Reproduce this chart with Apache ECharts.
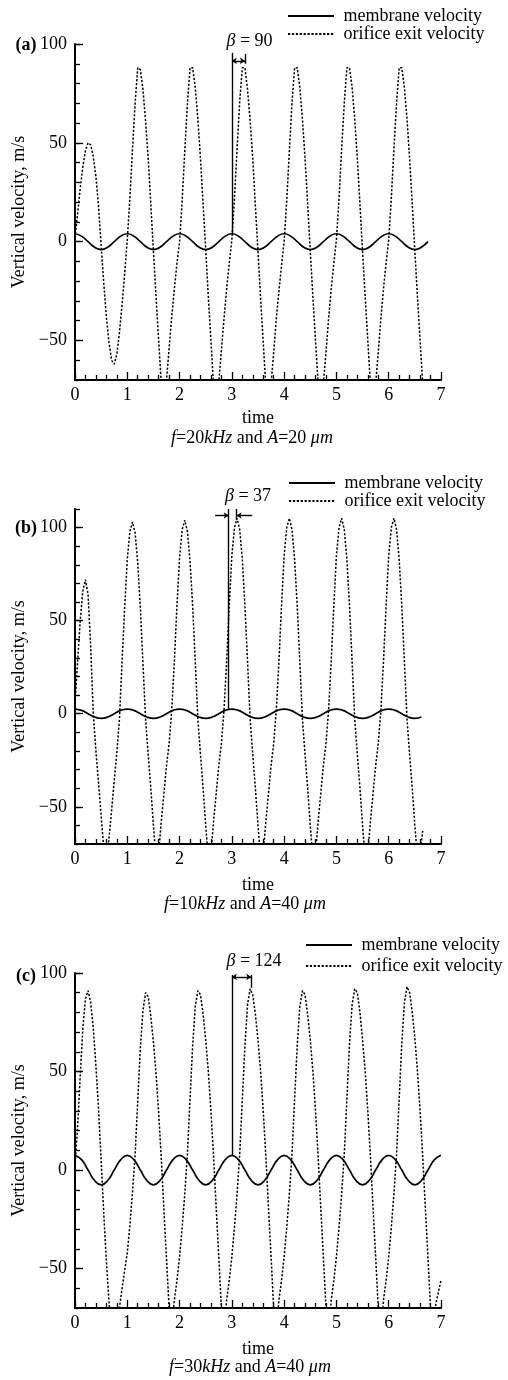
<!DOCTYPE html>
<html>
<head>
<meta charset="utf-8">
<title>membrane and orifice exit velocity</title>
<script src="https://cdn.jsdelivr.net/npm/echarts@6/dist/echarts.min.js"></script>
<style>
    html, body { margin: 0; padding: 0; background: #fff; }
    #chart { width: 508px; height: 1380px; }
</style>
</head>
<body>
<div id="chart"></div>
<script>
// sampling step (time units) used when reading the curves off the figure
let orificeStep = 0.05;
let membraneStep = 0.125;

// (a) f=20kHz, A=20um
let membraneA = [4, 2.8, 0, -2.8, -4, -2.8, 0, 2.8, 4, 2.8, 0, -2.8, -4, -2.8, 0, 2.8,
    4, 2.8, 0, -2.8, -4, -2.8, 0, 2.8, 4, 2.8, 0, -2.8, -4, -2.8, 0, 2.8,
    4, 2.8, 0, -2.8, -4, -2.8, 0, 2.8, 4, 2.8, 0, -2.8, -4, -2.8, 0, 2.8,
    4, 2.8, 0, -2.8, -4, -2.8, 0];
let orificeA = [2, 14, 27, 38, 46, 50, 49, 43, 33, 18, -2, -21, -38, -51, -60, -62, -57, -46, -32, -16,
    1, 22, 47, 70, 88, 87, 77, 61, 42, 19, -5, -28, -50, -72, -84, -70, -54, -38, -24, -11,
    0, 21, 46, 70, 88, 88, 78, 62, 42, 19, -4, -28, -50, -73, -85, -71, -55, -39, -24, -11,
    1, 22, 47, 71, 88, 88, 77, 61, 42, 18, -5, -29, -51, -73, -85, -72, -56, -39, -25, -12,
    0, 21, 46, 70, 88, 88, 78, 62, 42, 19, -5, -28, -50, -72, -85, -72, -56, -39, -24, -11,
    1, 22, 47, 70, 88, 88, 78, 62, 42, 19, -5, -28, -50, -72, -85, -72, -56, -39, -24, -11,
    1, 22, 47, 70, 88, 88, 78, 62, 42, 19, -5, -28, -50, -72];

// (b) f=10kHz, A=40um
let membraneB = [2.5, 1.8, 0, -1.8, -2.5, -1.8, 0, 1.8, 2.5, 1.8, 0, -1.8, -2.5, -1.8, 0, 1.8,
    2.5, 1.8, 0, -1.8, -2.5, -1.8, 0, 1.8, 2.5, 1.8, 0, -1.8, -2.5, -1.8, 0, 1.8,
    2.5, 1.8, 0, -1.8, -2.5, -1.8, 0, 1.8, 2.5, 1.8, 0, -1.8, -2.5, -1.8, 0, 1.8,
    2.5, 1.8, 0, -1.8, -2.5, -1.8];
let orificeB = [5, 28, 50, 66, 72, 64, 36, 0, -20, -37, -55, -72, -82, -67, -52, -36, -21, -3, 28, 57,
    83, 98, 103, 97, 81, 57, 27, -3, -22, -40, -60, -78, -75, -58, -43, -28, -16, 2, 28, 58,
    84, 99, 104, 98, 82, 58, 28, -3, -22, -40, -60, -78, -75, -58, -43, -28, -16, 2, 28, 58,
    85, 100, 105, 99, 83, 58, 28, -3, -22, -40, -60, -78, -75, -58, -43, -28, -16, 2, 28, 58,
    85, 100, 105, 99, 83, 58, 28, -3, -22, -40, -60, -78, -75, -58, -43, -28, -16, 2, 28, 58,
    85, 100, 105, 99, 83, 58, 28, -3, -22, -40, -60, -78, -75, -58, -43, -28, -16, 2, 28, 58,
    85, 100, 105, 99, 83, 58, 28, -3, -22, -40, -60, -78, -75, -63];

// (c) f=30kHz, A=40um
let membraneC = [7.5, 5.3, 0, -5.3, -7.5, -5.3, 0, 5.3, 7.5, 5.3, 0, -5.3, -7.5, -5.3, 0, 5.3,
    7.5, 5.3, 0, -5.3, -7.5, -5.3, 0, 5.3, 7.5, 5.3, 0, -5.3, -7.5, -5.3, 0, 5.3,
    7.5, 5.3, 0, -5.3, -7.5, -5.3, 0, 5.3, 7.5, 5.3, 0, -5.3, -7.5, -5.3, 0, 5.3,
    7.5, 5.3, 0, -5.3, -7.5, -5.3, 0, 5.3, 7.5];
let orificeC = [2, 22, 48, 72, 87, 91, 85, 72, 53, 31, 5, -22, -46, -67, -85, -95, -88, -70, -60, -51,
    -42, -28, -11, 8, 35, 62, 81, 90, 88, 78, 65, 49, 29, 6, -20, -45, -70, -82, -66, -56,
    -44, -29, -12, 8, 36, 63, 83, 91, 89, 79, 66, 50, 30, 7, -19, -44, -70, -82, -66, -56,
    -44, -29, -12, 8, 36, 63, 84, 92, 89, 79, 66, 50, 30, 7, -19, -44, -70, -82, -66, -56,
    -44, -29, -12, 8, 36, 63, 83, 91, 89, 79, 66, 50, 30, 7, -19, -44, -70, -82, -66, -56,
    -44, -29, -12, 8, 36, 64, 84, 92, 90, 80, 66, 50, 30, 7, -19, -44, -70, -82, -66, -56,
    -44, -29, -12, 8, 36, 64, 85, 93, 90, 80, 67, 50, 30, 7, -19, -44, -70, -82, -68, -62,
    -56];

// phase lag markers: [from, to, start symbol, end symbol] in data coords
let betaA = [[[3, 4], [3, 95.5], 'none', 'none'],
    [[3, 91.5], [3.25, 91.5], 'arrow', 'arrow'],
    [[3.25, 90], [3.25, 95], 'none', 'none']];
let betaB = [[[2.94, 2.3], [2.94, 110], 'none', 'none'],
    [[3.09, 104], [3.09, 110], 'none', 'none'],
    [[2.68, 106.5], [2.94, 106.5], 'none', 'arrow'],
    [[3.39, 106.5], [3.09, 106.5], 'none', 'arrow']];
let betaC = [[[3, 7.5], [3, 99], 'none', 'none'],
    [[3, 98], [3.37, 98], 'arrow', 'arrow'],
    [[3.37, 92.5], [3.37, 99], 'none', 'none']];

let yMajorTicks = [-50, 0, 50, 100];
let seriesNames = ['membrane velocity', 'orifice exit velocity'];

let serif = '"Liberation Serif", "Times New Roman", serif';

let panels = [
    {label: '(a)', labelY: 45.5, top: 44, height: 336, yMax: 100, mem: membraneA, ori: orificeA, beta: betaA,
        betaText: '{g|β} = 90', betaX: 249.5, betaY: 41, legendLeft: 287, legendTop: 7, legendGap: 0,
        caption: '{i|f}=20{i|kHz} and {i|A}=20 {i|μm}', captionX: 252, captionY: 438, timeGap: 29},
    {label: '(b)', labelY: 528, top: 509, height: 335, yMax: 110, mem: membraneB, ori: orificeB, beta: betaB,
        betaText: '{g|β} = 37', betaX: 248, betaY: 496.5, legendLeft: 288, legendTop: 474, legendGap: 0,
        caption: '{i|f}=10{i|kHz} and {i|A}=40 {i|μm}', captionX: 245, captionY: 904, timeGap: 32},
    {label: '(c)', labelY: 976, top: 973, height: 335, yMax: 100, mem: membraneC, ori: orificeC, beta: betaC,
        betaText: '{g|β} = 124', betaX: 254, betaY: 961, legendLeft: 305, legendTop: 936, legendGap: 3,
        caption: '{i|f}=30{i|kHz} and {i|A}=40 {i|μm}', captionX: 250, captionY: 1367, timeGap: 32}
];

function toPairs(values, step) {
    return values.map((v, i) => [Math.round(i * step * 1000) / 1000, v]);
}

function minusLabel(v) {
    return v < 0 ? '\u2212' + Math.abs(v) : String(v);
}

let font = {color: '#000', fontSize: 18, fontFamily: serif};
let black = {color: '#000', width: 1.3};

let grids = [], xAxes = [], yAxes = [], series = [], legends = [], graphics = [];

panels.forEach(function (p, k) {
    grids.push({left: 75, top: p.top, width: 366, height: p.height});

    xAxes.push({
        gridIndex: k, type: 'value', min: 0, max: 7, interval: 1,
        axisLine: {onZero: false, lineStyle: {color: '#000', width: 2}},
        axisTick: {inside: true, length: 8, lineStyle: black},
        minorTick: {show: true, splitNumber: 5, length: 5, lineStyle: black},
        axisLabel: Object.assign({margin: 6}, font),
        splitLine: {show: false},
        name: 'time', nameLocation: 'middle', nameGap: p.timeGap,
        nameTextStyle: font
    });

    // minor ticks every 10
    yAxes.push({
        gridIndex: k, type: 'value', position: 'left', min: -70, max: p.yMax, interval: 10,
        axisLine: {onZero: false, lineStyle: {color: '#000', width: 2}},
        axisTick: {inside: true, length: 5, lineStyle: black},
        axisLabel: {show: false},
        splitLine: {show: false}
    });
    // major ticks + labels
    yAxes.push({
        gridIndex: k, type: 'value', position: 'left', min: -70, max: p.yMax, interval: 10,
        axisLine: {show: false, onZero: false},
        axisTick: {inside: true, length: 8, lineStyle: black, customValues: yMajorTicks},
        axisLabel: Object.assign({margin: 8, customValues: yMajorTicks, formatter: minusLabel}, font),
        splitLine: {show: false},
        name: 'Vertical velocity, m/s', nameLocation: 'middle', nameGap: 47, nameRotate: 90,
        nameTextStyle: font
    });

    series.push({
        name: seriesNames[0], type: 'line', xAxisIndex: k, yAxisIndex: 2 * k,
        data: toPairs(p.mem, membraneStep), symbol: 'none', smooth: true,
        itemStyle: {color: '#000'},
        lineStyle: {color: '#000', width: 1.7},
        markLine: {
            silent: true, animation: false, symbolSize: 5,
            label: {show: false},
            lineStyle: {color: '#000', width: 1.4, type: 'solid'},
            data: p.beta.map(s => [
                {coord: s[0], symbol: s[2]},
                {coord: s[1], symbol: s[3]}
            ])
        }
    });
    series.push({
        name: seriesNames[1], type: 'line', xAxisIndex: k, yAxisIndex: 2 * k,
        data: toPairs(p.ori, orificeStep), symbol: 'none',
        itemStyle: {color: '#000'},
        lineStyle: {color: '#000', width: 1.5, type: [2.2, 1.7]}
    });

    legends.push({
        orient: 'vertical', left: p.legendLeft, top: p.legendTop, padding: 0,
        itemWidth: 46, itemHeight: 14, itemGap: p.legendGap,
        selectedMode: false, data: seriesNames, formatter: ' {name}',
        itemStyle: {opacity: 0},
        textStyle: Object.assign({lineHeight: 18}, font)
    });

    graphics.push({
        type: 'text', x: 26, y: p.labelY,
        style: {text: p.label, fill: '#000', fontSize: 18, fontWeight: 'bold', fontFamily: serif,
            align: 'center', verticalAlign: 'middle'}
    });
    graphics.push({
        type: 'text', x: p.betaX, y: p.betaY,
        style: {text: p.betaText, fill: '#000', fontSize: 18, fontFamily: serif,
            align: 'center', verticalAlign: 'middle',
            rich: {g: {fontSize: 18, fontFamily: serif, fontStyle: 'italic', fill: '#000'}}}
    });
    graphics.push({
        type: 'text', x: p.captionX, y: p.captionY,
        style: {text: p.caption, fill: '#000', fontSize: 18, fontFamily: serif,
            align: 'center', verticalAlign: 'middle',
            rich: {i: {fontSize: 18, fontFamily: serif, fontStyle: 'italic', fill: '#000'}}}
    });
});

let myChart = echarts.init(document.getElementById('chart'));
myChart.setOption({
    animation: false,
    backgroundColor: '#fff',
    grid: grids,
    xAxis: xAxes,
    yAxis: yAxes,
    legend: legends,
    graphic: graphics,
    series: series
});
</script>
</body>
</html>
